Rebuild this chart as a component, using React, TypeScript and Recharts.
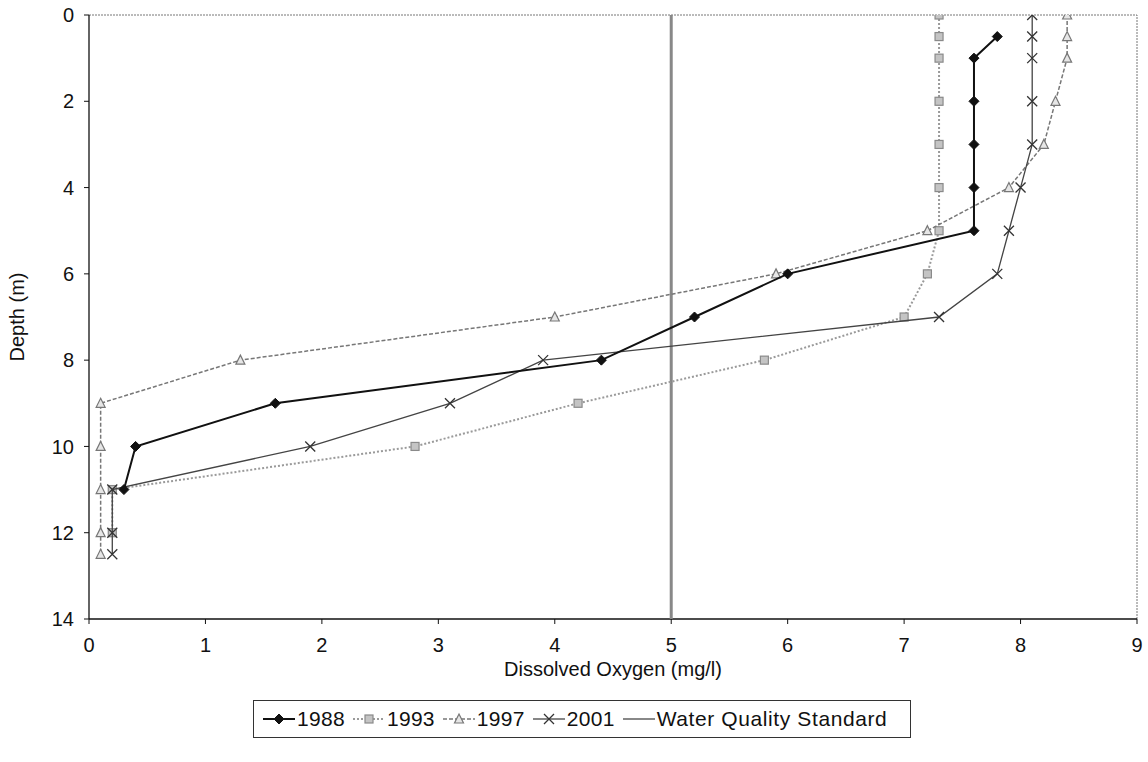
import React from "react";
import {
  ScatterChart,
  Scatter,
  XAxis,
  YAxis,
  ReferenceLine,
  Legend,
  Label,
} from "recharts";

if (typeof document !== "undefined") document.body.style.margin = "0";

// depth (m) and dissolved oxygen (mg/l) per survey year
const depths1988 = [0.5, 1, 2, 3, 4, 5, 6, 7, 8, 9, 10, 11];
const oxygen1988 = [7.8, 7.6, 7.6, 7.6, 7.6, 7.6, 6.0, 5.2, 4.4, 1.6, 0.4, 0.3];

const depths1993 = [0, 0.5, 1, 2, 3, 4, 5, 6, 7, 8, 9, 10, 11, 12];
const oxygen1993 = [7.3, 7.3, 7.3, 7.3, 7.3, 7.3, 7.3, 7.2, 7.0, 5.8, 4.2, 2.8, 0.2, 0.2];

const depths1997 = [0, 0.5, 1, 2, 3, 4, 5, 6, 7, 8, 9, 10, 11, 12, 12.5];
const oxygen1997 = [8.4, 8.4, 8.4, 8.3, 8.2, 7.9, 7.2, 5.9, 4.0, 1.3, 0.1, 0.1, 0.1, 0.1, 0.1];

const depths2001 = [0, 0.5, 1, 2, 3, 4, 5, 6, 7, 8, 9, 10, 11, 12, 12.5];
const oxygen2001 = [8.1, 8.1, 8.1, 8.1, 8.1, 8.0, 7.9, 7.8, 7.3, 3.9, 3.1, 1.9, 0.2, 0.2, 0.2];

const standardDepths = [0, 14];
const standardOxygen = [5, 5];

const xTicks = [0, 1, 2, 3, 4, 5, 6, 7, 8, 9];
const yTicks = [0, 2, 4, 6, 8, 10, 12, 14];

const toPoints = (depths: number[], oxygen: number[]) =>
  depths.map((d, i) => ({ x: oxygen[i], y: d }));

const FONT = "'Liberation Sans', Arial, sans-serif";

const Diamond = ({ cx, cy }: any) =>
  cx == null ? <g /> : (
    <path d={`M${cx},${cy - 5}L${cx + 5},${cy}L${cx},${cy + 5}L${cx - 5},${cy}Z`} fill="#111" stroke="#111" />
  );

const Square = ({ cx, cy }: any) =>
  cx == null ? <g /> : (
    <rect x={cx - 4} y={cy - 4} width={8} height={8} fill="#c4c4c4" stroke="#8a8a8a" strokeWidth={1.2} />
  );

const Triangle = ({ cx, cy }: any) =>
  cx == null ? <g /> : (
    <path d={`M${cx},${cy - 5}L${cx + 4.5},${cy + 4}L${cx - 4.5},${cy + 4}Z`} fill="#e6e6e6" stroke="#777" strokeWidth={1.2} />
  );

const Cross = ({ cx, cy }: any) =>
  cx == null ? <g /> : (
    <path d={`M${cx - 5},${cy - 5}L${cx + 5},${cy + 5}M${cx + 5},${cy - 5}L${cx - 5},${cy + 5}`} stroke="#333" strokeWidth={1.3} fill="none" />
  );

const Blank = () => <g />;

const legendItems = [
  { name: "1988", stroke: "#111", width: 2, dash: undefined, Marker: Diamond },
  { name: "1993", stroke: "#9a9a9a", width: 2, dash: "2 2", Marker: Square },
  { name: "1997", stroke: "#777", width: 1.5, dash: "4 2", Marker: Triangle },
  { name: "2001", stroke: "#444", width: 1.3, dash: undefined, Marker: Cross },
  { name: "Water Quality Standard", stroke: "#888", width: 2, dash: undefined, Marker: Blank },
];

const renderLegend = () => (
  <div
    style={{
      border: "1px solid #333",
      height: 38,
      display: "flex",
      alignItems: "center",
      paddingLeft: 8,
      fontFamily: FONT,
      fontSize: 21,
      color: "#111",
      boxSizing: "border-box",
    }}
  >
    {legendItems.map(({ name, stroke, width, dash, Marker }) => (
      <div key={name} style={{ display: "flex", alignItems: "center", marginRight: 7 }}>
        <svg width={34} height={16}>
          <line x1={1} y1={8} x2={33} y2={8} stroke={stroke} strokeWidth={width} strokeDasharray={dash} />
          <Marker cx={17} cy={8} />
        </svg>
        <span style={{ marginLeft: 1, letterSpacing: name.length > 4 ? 0.6 : 0.3 }}>{name}</span>
      </div>
    ))}
  </div>
);

export default function App() {
  return (
    <div style={{ width: 1148, height: 762, background: "#fff" }}>
      <ScatterChart
        width={1148}
        height={762}
        margin={{ top: 15, right: 11, left: 0, bottom: 83 }}
      >
        <XAxis
          type="number"
          dataKey="x"
          domain={[0, 9]}
          ticks={xTicks}
          allowDataOverflow
          height={60}
          tickSize={5}
          tickMargin={14}
          axisLine={{ stroke: "#111", strokeWidth: 1.3 }}
          tickLine={{ stroke: "#111" }}
          tick={{ fill: "#111", fontSize: 20, fontFamily: FONT }}
        >
          <Label
            content={({ viewBox }: any) => (
              <text
                x={viewBox.x + viewBox.width / 2}
                y={viewBox.y + 57}
                textAnchor="middle"
                fill="#111"
                fontSize={20}
                fontFamily={FONT}
              >
                Dissolved Oxygen (mg/l)
              </text>
            )}
          />
        </XAxis>
        <YAxis
          type="number"
          dataKey="y"
          reversed
          domain={[0, 14]}
          ticks={yTicks}
          allowDataOverflow
          width={89}
          tickSize={5}
          tickMargin={10}
          axisLine={{ stroke: "#111", strokeWidth: 1.3 }}
          tickLine={{ stroke: "#111" }}
          tick={{ fill: "#111", fontSize: 20, fontFamily: FONT }}
        >
          <Label
            content={({ viewBox }: any) => (
              <text
                x={24}
                y={viewBox.y + viewBox.height / 2}
                transform={`rotate(-90 24 ${viewBox.y + viewBox.height / 2})`}
                textAnchor="middle"
                fill="#111"
                fontSize={20}
                fontFamily={FONT}
              >
                Depth (m)
              </text>
            )}
          />
        </YAxis>
        <ReferenceLine y={0} stroke="#777" strokeDasharray="2 1" />
        <ReferenceLine x={9} stroke="#777" strokeDasharray="2 1" />
        <Scatter
          name="Water Quality Standard"
          data={toPoints(standardDepths, standardOxygen)}
          line={{ stroke: "#888", strokeWidth: 3 }}
          shape={Blank}
          isAnimationActive={false}
        />
        <Scatter
          name="1993"
          data={toPoints(depths1993, oxygen1993)}
          line={{ stroke: "#9a9a9a", strokeWidth: 2, strokeDasharray: "2 2" }}
          shape={Square}
          isAnimationActive={false}
        />
        <Scatter
          name="1997"
          data={toPoints(depths1997, oxygen1997)}
          line={{ stroke: "#777", strokeWidth: 1.5, strokeDasharray: "4 2" }}
          shape={Triangle}
          isAnimationActive={false}
        />
        <Scatter
          name="2001"
          data={toPoints(depths2001, oxygen2001)}
          line={{ stroke: "#444", strokeWidth: 1.3 }}
          shape={Cross}
          isAnimationActive={false}
        />
        <Scatter
          name="1988"
          data={toPoints(depths1988, oxygen1988)}
          line={{ stroke: "#111", strokeWidth: 2 }}
          shape={Diamond}
          isAnimationActive={false}
        />
        <Legend
          verticalAlign="middle"
          align="center"
          layout="horizontal"
          content={renderLegend}
          wrapperStyle={{ position: "absolute", left: 253, top: 700, width: 658, height: 38 }}
        />
      </ScatterChart>
    </div>
  );
}
